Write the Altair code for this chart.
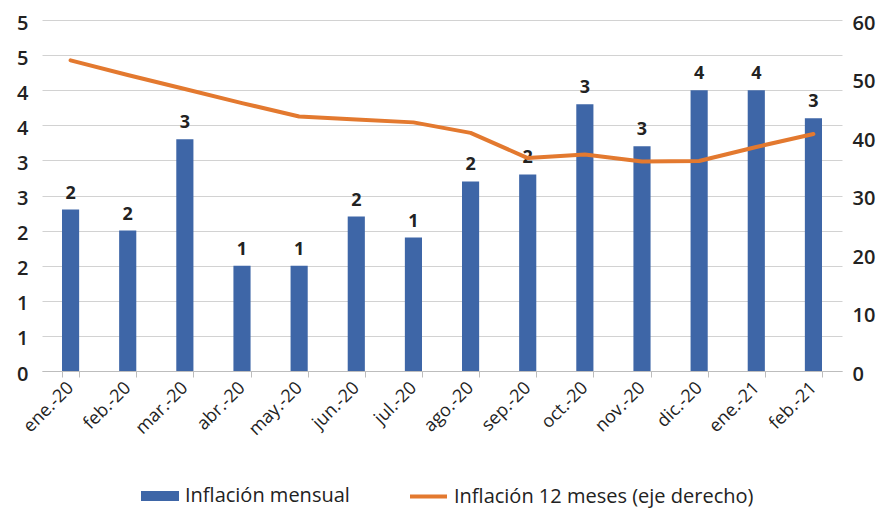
import altair as alt
import pandas as pd

meses = ["ene.-20", "feb.-20", "mar.-20", "abr.-20", "may.-20", "jun.-20", "jul.-20",
         "ago.-20", "sep.-20", "oct.-20", "nov.-20", "dic.-20", "ene.-21", "feb.-21"]
mensual = [2.3, 2.0, 3.3, 1.5, 1.5, 2.2, 1.9, 2.7, 2.8, 3.8, 3.2, 4.0, 4.0, 3.6]
interanual = [53.1, 50.6, 48.2, 45.8, 43.5, 43.0, 42.5, 40.7, 36.4, 37.0, 35.8, 35.9, 38.3, 40.5]
ticks_izq = [0, 0.5, 1, 1.5, 2, 2.5, 3, 3.5, 4, 4.5, 5]
ticks_der = [0, 10, 20, 30, 40, 50, 60]

AZUL = "#3E66A7"
NARANJA = "#E3792F"
FONT = "Open Sans"

df = pd.DataFrame({"mes": meses, "mensual": mensual, "interanual": interanual})

x = alt.X(
    "mes:N", sort=meses, title=None,
    scale=alt.Scale(paddingInner=0.7, paddingOuter=0.35),
    axis=alt.Axis(labelAngle=-45, labelAlign="right", labelBaseline="middle",
                  labelFontSize=18, labelFont=FONT, labelColor="#222222",
                  labelPadding=8, tickBand="extent", tickSize=6,
                  tickColor="#BDBDBD", domainColor="#BDBDBD", grid=False),
)

eje_izq = alt.Axis(values=ticks_izq, labelExpr="'' + round(datum.value)",
                   domain=False, ticks=False, grid=True, gridColor="#D2D2D2",
                   labelFontSize=20, labelFontWeight=600, labelFont=FONT,
                   labelColor="#222222", labelPadding=14, labelOffset=3, title=None)
esc_izq = alt.Scale(domain=[0, 5], nice=False)

barras = alt.Chart(df).transform_calculate(serie="'Inflación mensual'").mark_bar(
).encode(
    x=x,
    y=alt.Y("mensual:Q", title=None, scale=esc_izq, axis=eje_izq),
    color=alt.Color("serie:N", scale=alt.Scale(range=[AZUL]),
                    legend=alt.Legend(title=None, orient="none", legendX=98, legendY=456,
                                      symbolType="M-1,-0.26H1V0.26H-1Z", symbolSize=1444,
                                      labelFontSize=20, labelFont=FONT, labelColor="#222222",
                                      labelOffset=5, labelLimit=500)),
)

etiquetas = alt.Chart(df).transform_calculate(et="'' + floor(datum.mensual)").mark_text(
    baseline="bottom", dy=-7, fontSize=18, fontWeight="bold", font=FONT, color="#222222"
).encode(
    x=alt.X("mes:N", sort=meses),
    y=alt.Y("mensual:Q", title=None, scale=esc_izq, axis=eje_izq),
    text="et:N",
)

linea = alt.Chart(df).transform_calculate(serie2="'Inflación 12 meses (eje derecho)'").mark_line(
    strokeWidth=4, strokeCap="round", strokeJoin="round"
).encode(
    x=alt.X("mes:N", sort=meses),
    y=alt.Y("interanual:Q", title=None,
            scale=alt.Scale(domain=[0, 60], nice=False),
            axis=alt.Axis(orient="right", values=ticks_der, domain=False, ticks=False,
                          grid=False, labelFontSize=20, labelFontWeight=600, labelFont=FONT,
                          labelColor="#222222", labelPadding=10, labelOffset=3)),
    color=alt.Color("serie2:N", scale=alt.Scale(range=[NARANJA]),
                    legend=alt.Legend(title=None, orient="none", legendX=366, legendY=456,
                                      symbolType="M-1,0L1,0", symbolSize=1369,
                                      symbolStrokeWidth=4,
                                      labelFontSize=20, labelFont=FONT, labelColor="#222222",
                                      labelOffset=5, labelLimit=500)),
)

chart = alt.layer(
    alt.layer(barras, etiquetas), linea
).resolve_scale(
    y="independent", color="independent"
).resolve_legend(
    color="independent"
).properties(
    width=800, height=351,
    padding={"left": 34, "top": 12, "right": 35, "bottom": 148},
    autosize=alt.AutoSizeParams(type="none"),
    background="white",
).configure_view(stroke=None)

chart.save("out.html", embed_options={"renderer": "svg", "actions": False})
